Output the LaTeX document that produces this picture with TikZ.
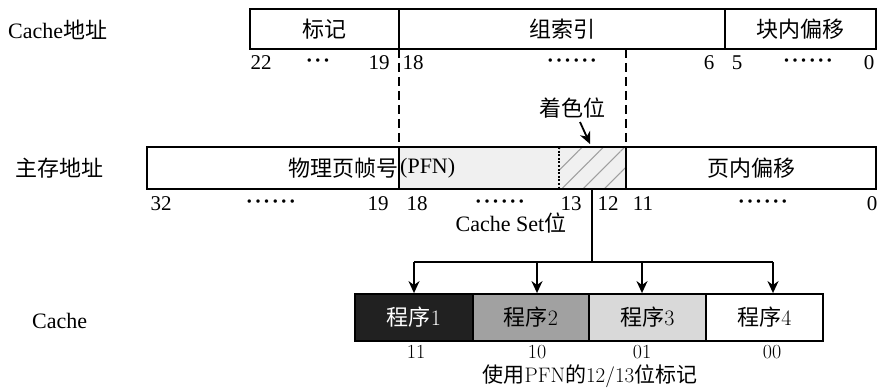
\documentclass[tikz,border=0pt]{standalone}
\usepackage{fontspec}
\setmainfont{Liberation Serif}
\newfontfamily\cjk{Noto Sans CJK SC}
\newfontfamily\lmr{Latin Modern Roman}
\usetikzlibrary{patterns.meta,arrows.meta}
\newcommand{\dotrow}[1]{\foreach \i in {1,...,#1}{\kern0.8pt{\bfseries\textperiodcentered}\kern0.8pt}}
\begin{document}
\begin{tikzpicture}[x=1pt,y=-1pt,
  box/.style={draw=black,line width=1.8pt},
  lbl/.style={inner sep=0pt,font=\fontsize{22}{24}\selectfont},
  num/.style={inner sep=0pt,font=\fontsize{21}{24}\selectfont},
  lnum/.style={inner sep=0pt,font=\lmr\fontsize{20}{22}\selectfont},
  dsh/.style={line width=1.6pt,dash pattern=on 9pt off 5pt},
  arr/.style={line width=1.8pt,-{Stealth[length=12pt,width=11pt]}},
  prog/.style={draw=black,line width=1.8pt,minimum height=47pt,inner sep=0pt,font=\fontsize{22}{24}\selectfont}]
\useasboundingbox (0,0) rectangle (878,390);
% left labels
\node[lbl,anchor=west] (lcache) at (8,30) {Cache{\cjk 地址}};
\node[lbl,anchor=west] (lmain) at (15,168) {{\cjk 主存地址}};
\node[lbl,anchor=west] (lc) at (32,321) {Cache};
% top box
\draw[box] (250,9) rectangle (876,49);
\draw[box] (399,9) -- (399,49);
\draw[box] (725,9) -- (725,49);
\node[lbl] (tag) at (324,29) {\cjk 标记};
\node[lbl] (idx) at (562,29) {\cjk 组索引};
\node[lbl] (off) at (800,29) {\cjk 块内偏移};
\node[num] (n22) at (261,63) {22};
\node[num] (nd1) at (318,63) {\dotrow{3}};
\node[num] (n19) at (379,63) {19};
\node[num] (n18) at (413,63) {18};
\node[num] (nd2) at (572,63) {\dotrow{6}};
\node[num] (n6) at (709,63) {6};
\node[num] (n5) at (737,63) {5};
\node[num] (nd3) at (808,63) {\dotrow{6}};
\node[num] (n0) at (869,63) {0};
% dashed
\coordinate (d1a) at (399,49); \coordinate (d1b) at (399,147);
\coordinate (d2a) at (626,49); \coordinate (d2b) at (626,147);
\draw[dsh] (d1a) -- (d1b);
\draw[dsh] (d2a) -- (d2b);
\node[lbl] (color) at (572,108) {\cjk 着色位};
\coordinate (ca) at (580,122); \coordinate (cb) at (590,144);
\draw[arr] (ca) -- (cb);
% main box
\fill[gray!12] (399,147) rectangle (626,189);
\fill[pattern={Lines[angle=45,distance=15pt,line width=1pt]},pattern color=gray!75] (559,147) rectangle (626,189);
\draw[line width=1.4pt,dash pattern=on 2pt off 1.6pt] (559,147) rectangle (626,189);
\draw[box] (147,147) rectangle (876,189);
\draw[box] (399,147) -- (399,189);
\draw[box] (626,147) -- (626,189);
\node[lbl,anchor=east] (pfn1) at (398.5,168) {\cjk 物理页帧号};
\node[lbl,anchor=west] (pfn2) at (400,168) {(PFN)};
\node[lbl] (poff) at (751,168) {\cjk 页内偏移};
\node[num] (m32) at (161,204) {32};
\node[num] (md1) at (271,204) {\dotrow{6}};
\node[num] (m19) at (378,204) {19};
\node[num] (m18) at (417,204) {18};
\node[num] (md2) at (500,204) {\dotrow{6}};
\node[num] (m13) at (571,204) {13};
\node[num] (m12) at (608,204) {12};
\node[num] (m11) at (643,204) {11};
\node[num] (md3) at (763,204) {\dotrow{6}};
\node[num] (m0) at (872,204) {0};
\node[lbl] (cset) at (511,223) {Cache Set{\cjk 位}};
% branch
\coordinate (v0) at (592,189);
\coordinate (v1) at (592,262);
\coordinate (h1) at (414,262);
\coordinate (h4) at (773,262);
\draw[line width=1.4pt] (v0) -- (v1);
\draw[line width=1.8pt] (h1) -- (h4);
% cache boxes
\node[prog,fill=black!87,text=white,minimum width=118pt] (p1) at (414,317.5) {{\cjk 程序}{\lmr 1}};
\node[prog,fill=black!37,minimum width=116pt] (p2) at (531,317.5) {{\cjk 程序}{\lmr 2}};
\node[prog,fill=black!15,minimum width=117pt] (p3) at (647.5,317.5) {{\cjk 程序}{\lmr 3}};
\node[prog,fill=white,minimum width=117pt] (p4) at (764.5,317.5) {{\cjk 程序}{\lmr 4}};
\coordinate (a1) at (414,262); \coordinate (a2) at (537,262);
\coordinate (a3) at (642,262); \coordinate (a4) at (773,262);
\draw[arr] (a1) -- (a1 |- p1.north);
\draw[arr] (a2) -- (a2 |- p2.north);
\draw[arr] (a3) -- (a3 |- p3.north);
\draw[arr] (a4) -- (a4 |- p4.north);
\node[lnum] (b1) at (416,352) {11};
\node[lnum] (b2) at (537,352) {10};
\node[lnum] (b3) at (642,352) {01};
\node[lnum] (b4) at (772,352) {00};
\node[lbl,font=\fontsize{21}{22}\selectfont] (cap) at (590,376) {{\cjk 使用}{\lmr PFN}{\cjk 的}{\lmr 12/13}{\cjk 位标记}};
\end{tikzpicture}
\end{document}
